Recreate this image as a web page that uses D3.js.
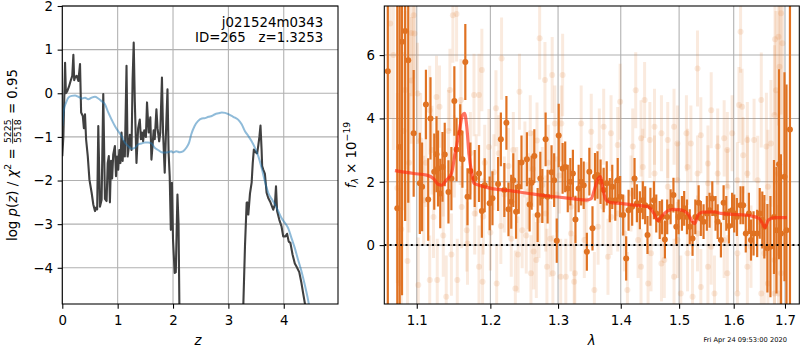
<!DOCTYPE html>
<html><head><meta charset="utf-8">
<script src="https://cdn.jsdelivr.net/npm/d3@7"></script>
<style>
body{margin:0;background:#fff}
svg text{font-family:"DejaVu Sans",sans-serif}
</style></head><body>
<svg id="fig" width="800" height="350"></svg>
<script>
// ---- redshift probability, p(z) (dark curve) ----
const pzGrid = [0.00,0.02,0.035,0.05,0.065,0.09,0.12,0.15,0.18,0.20,0.215,0.23,0.26,0.29,0.32,0.34,0.37,0.39,0.41,0.43,0.46,0.49,0.53,0.56,0.59,0.61,0.63,0.65,0.68,0.71,0.74,0.77,0.80,0.82,0.84,0.86,0.88,0.90,0.92,0.95,0.97,0.99,1.01,1.03,1.05,1.07,1.09,1.11,1.13,1.16,1.18,1.20,1.22,1.25,1.27,1.29,1.31,1.34,1.37,1.40,1.42,1.44,1.46,1.48,1.51,1.53,1.56,1.59,1.61,1.63,1.65,1.67,1.70,1.72,1.75,1.77,1.80,1.82,1.85,1.87,1.90,1.92,1.94,1.96,1.98,2.00,2.03,2.05,2.07,2.08,2.10,2.12,2.20,3.20,3.25,3.27,3.30,3.33,3.34,3.36,3.39,3.42,3.44,3.46,3.49,3.52,3.54,3.56,3.58,3.60,3.61,3.63,3.66,3.69,3.72,3.76,3.81,3.84,3.86,3.88,3.92,3.96,3.99,4.03,4.06,4.09,4.12,4.16,4.20,4.23,4.28,4.32,4.35,4.40,4.45];
const pzLog  = [-1.44,-0.98,-0.14,0.70,0.00,0.05,0.15,0.28,0.40,0.88,0.30,0.36,0.40,0.28,0.67,-0.44,-0.52,-0.80,-0.48,-1.06,-1.44,-1.98,-2.28,-2.55,-2.70,-2.62,-2.66,-0.75,-2.60,-2.44,-0.02,-2.42,-2.47,-1.60,-1.44,-2.50,-1.55,-1.95,-1.40,-1.21,-1.90,-1.45,-1.75,-1.30,-1.60,-0.90,-1.55,-1.10,-1.45,0.63,-1.45,-1.25,-0.95,-1.30,0.32,1.16,-0.20,-1.60,-0.80,-0.60,-1.05,-0.90,-1.10,-0.85,-1.00,-0.21,-0.90,-0.55,-1.52,-1.20,-0.85,-1.05,-0.37,-0.80,-1.10,-0.90,0.36,-0.90,-1.82,-1.00,0.09,-1.36,-1.90,-3.13,-2.05,-3.36,-4.12,-4.10,-2.90,-2.32,-3.00,-5.50,-12,-12,-6.0,-4.85,-3.50,-2.51,-2.50,-2.78,-2.30,-2.05,-1.60,-1.29,-1.35,-1.38,-1.20,-1.00,-0.74,-1.30,-1.67,-1.75,-1.85,-2.28,-2.40,-2.50,-2.67,-2.55,-2.13,-2.70,-2.90,-3.05,-3.28,-3.28,-3.22,-3.40,-3.43,-3.70,-3.90,-3.97,-4.10,-4.35,-4.58,-4.95,-5.50];

// ---- smoothed p(z) (light blue curve) ----
const pzSmoothGrid = [0.00,0.03,0.07,0.11,0.17,0.23,0.29,0.35,0.41,0.47,0.53,0.59,0.65,0.71,0.77,0.83,0.89,0.95,1.01,1.07,1.13,1.19,1.25,1.31,1.37,1.43,1.49,1.55,1.61,1.67,1.73,1.79,1.85,1.91,1.97,2.00,2.06,2.12,2.18,2.24,2.29,2.33,2.39,2.45,2.52,2.58,2.64,2.70,2.76,2.82,2.88,2.94,3.00,3.06,3.12,3.18,3.24,3.30,3.36,3.42,3.48,3.54,3.60,3.66,3.72,3.78,3.84,3.90,3.96,4.02,4.08,4.14,4.20,4.26,4.32,4.38,4.44,4.53];
const pzSmoothLog  = [-0.75,-0.37,-0.21,-0.10,-0.06,-0.05,-0.08,-0.12,-0.10,-0.14,-0.10,-0.08,-0.12,-0.18,-0.25,-0.44,-0.60,-0.75,-0.87,-0.98,-1.13,-1.21,-1.27,-1.25,-1.17,-1.15,-1.13,-1.13,-1.15,-1.25,-1.30,-1.35,-1.36,-1.35,-1.33,-1.36,-1.33,-1.35,-1.33,-1.25,-1.13,-0.94,-0.75,-0.64,-0.58,-0.57,-0.54,-0.52,-0.48,-0.46,-0.44,-0.45,-0.48,-0.52,-0.56,-0.61,-0.71,-0.87,-0.98,-1.10,-1.25,-1.44,-1.71,-2.02,-2.28,-2.42,-2.55,-2.70,-2.86,-2.97,-3.09,-3.32,-3.55,-3.82,-4.08,-4.39,-4.74,-5.40];

const zTicks = [0,1,2,3,4];
const logpTicks = [-4,-3,-2,-1,0,1,2];

// ---- spectrum: [wavelength, flux, error] ----
const specStrong = [
 [1.063,5.49,10],[1.075,1.16,9],[1.078,3.10,8],[1.081,6.42,8],[1.085,6.76,6],[1.089,5.84,4.5],[1.096,3.53,2.0],
 [1.104,1.95,1.6],[1.107,1.84,1.4],[1.112,4.44,1.1],[1.115,1.44,1.3],[1.118,4.00,1.3],[1.123,2.32,1.2],[1.126,2.87,1.2],
 [1.128,2.42,1.2],[1.131,1.63,1.1],[1.134,2.47,1.1],[1.137,2.86,1.0],[1.142,1.68,1.0],[1.146,2.10,1.0],[1.150,4.55,1.1],
 [1.153,3.02,1.0],[1.158,3.55,0.9],[1.161,2.71,0.9],[1.165,5.78,1.2],[1.168,1.53,0.9],[1.172,2.34,0.9],[1.178,2.10,0.9],
 [1.184,2.26,0.9],[1.188,1.08,0.85],[1.192,1.89,0.85],[1.199,1.32,0.85],[1.203,1.48,0.85],[1.211,1.93,0.85],[1.215,3.34,0.85],
 [1.220,1.74,0.85],[1.223,3.86,0.85],[1.226,1.13,0.85],[1.230,1.37,0.85],[1.233,2.05,0.85],[1.237,1.05,0.85],[1.241,1.84,0.85],
 [1.245,2.61,0.85],[1.253,2.71,0.85],[1.257,1.28,0.85],[1.260,1.97,0.85],[1.264,2.81,0.85],[1.269,0.95,0.85],[1.273,2.10,0.85],
 [1.276,1.55,0.85],[1.281,3.34,0.85],[1.284,1.53,0.85],[1.290,2.30,0.85],[1.294,2.05,0.85],[1.298,0.14,0.7],[1.301,3.46,1.0],
 [1.307,2.42,0.8],[1.311,2.47,0.8],[1.315,1.79,0.75],[1.319,2.00,0.75],[1.323,2.26,0.75],[1.327,0.81,0.75],[1.332,1.79,0.75],
 [1.336,2.00,0.75],[1.340,1.89,0.75],[1.345,-0.21,0.6],[1.349,2.32,0.75],[1.354,0.53,0.7],[1.358,2.16,0.75],[1.362,2.21,0.75],
 [1.367,2.00,0.7],[1.372,1.74,0.7],[1.377,1.95,0.7],[1.382,1.42,0.7],[1.386,1.84,0.7],[1.391,1.42,0.65],[1.395,2.05,0.7],
 [1.399,1.53,0.65],[1.404,0.95,0.65],[1.409,-0.42,0.7],[1.413,1.10,0.65],[1.419,1.21,0.6],[1.423,2.10,0.65],[1.427,1.32,0.6],
 [1.432,1.10,0.6],[1.437,1.42,0.6],[1.441,1.26,0.6],[1.445,0.32,0.6],[1.450,1.21,0.6],[1.456,1.42,0.6],[1.460,1.00,0.6],
 [1.466,0.79,0.6],[1.470,0.89,0.55],[1.475,0.18,0.6],[1.479,0.89,0.55],[1.485,1.21,0.55],[1.490,1.58,0.55],[1.495,0.58,0.55],
 [1.499,0.89,0.55],[1.505,1.00,0.55],[1.509,1.16,0.55],[1.514,0.89,0.55],[1.519,0.58,0.55],[1.524,0.21,0.55],[1.529,0.89,0.55],
 [1.535,1.34,0.55],[1.539,0.84,0.55],[1.544,0.74,0.55],[1.550,1.00,0.55],[1.555,1.10,0.55],[1.560,1.47,0.55],[1.566,1.00,0.55],
 [1.570,0.74,0.55],[1.576,0.16,0.55],[1.581,1.34,0.55],[1.586,1.00,0.55],[1.591,0.60,0.55],[1.597,1.10,0.55],[1.601,1.00,0.6],
 [1.606,0.89,0.6],[1.613,1.26,0.6],[1.618,1.26,0.6],[1.623,0.37,0.6],[1.629,1.00,0.65],[1.633,0.16,0.65],[1.638,0.37,0.7],
 [1.645,0.37,0.75],[1.650,1.00,0.8],[1.655,0.79,0.9],[1.659,0.58,1.0],[1.665,-0.10,1.4],[1.671,-0.05,1.6],[1.678,0.89,1.8],
 [1.683,0.47,2.0],[1.688,2.55,3.0],[1.692,0.37,2.5],[1.699,2.16,3.3],[1.703,0.47,4.6],[1.710,3.65,9]
];

const specFaint = [
 [1.066,7.0,3.0],[1.070,6.0,3.0],[1.075,1.8,3.0],[1.078,-1.2,3.0],[1.080,0.5,3.0],[1.083,3.6,2.5],[1.085,4.9,2.5],[1.088,-0.5,2.5],
 [1.090,2.6,2.2],[1.093,5.2,2.0],[1.093,6.7,2.0],[1.096,7.26,2.0],[1.097,6.68,1.8],[1.101,4.79,1.6],
 [1.102,-1.26,1.5],[1.105,3.3,1.5],[1.109,1.42,1.4],[1.112,2.6,1.4],[1.117,4.26,1.4],[1.117,-1.10,1.4],[1.120,3.0,1.4],
 [1.122,0.89,1.3],[1.126,4.68,1.3],[1.127,-1.10,1.3],[1.130,4.37,1.3],[1.135,2.2,1.3],[1.135,0.3,1.3],[1.139,-1.63,1.3],
 [1.142,3.6,1.3],[1.144,4.90,1.3],[1.146,-0.3,1.3],[1.148,7.26,1.5],[1.150,2.8,1.3],[1.153,7.30,1.5],[1.154,-1.10,1.3],
 [1.158,3.2,1.3],[1.159,4.58,1.3],[1.160,1.2,1.3],[1.167,0.47,1.3],[1.168,0.05,1.3],[1.172,2.9,1.3],[1.177,4.74,1.3],
 [1.178,1.0,1.3],[1.180,2.2,1.3],[1.184,4.74,1.3],[1.184,-0.68,1.3],[1.188,5.53,1.3],[1.189,-1.16,1.2],[1.190,0.9,1.2],
 [1.192,2.6,1.2],[1.198,3.1,1.2],[1.200,0.4,1.2],[1.205,2.3,1.2],[1.208,4.32,1.2],[1.209,-1.21,1.2],[1.212,2.9,1.2],
 [1.215,0.6,1.2],[1.216,5.89,1.3],[1.220,1.6,1.2],[1.226,2.5,1.2],[1.230,0.2,1.2],[1.233,3.0,1.2],[1.236,-1.37,1.2],
 [1.238,1.9,1.2],[1.240,-0.3,1.2],[1.242,4.84,1.2],[1.246,0.47,1.2],[1.250,2.7,1.2],[1.252,0.3,1.2],[1.255,1.7,1.2],
 [1.258,3.53,1.2],[1.259,-0.89,1.2],[1.262,2.4,1.2],[1.263,-0.2,1.2],[1.267,-0.47,1.2],[1.268,3.3,1.2],[1.271,0.79,1.2],
 [1.272,6.53,1.3],[1.276,1.9,1.2],[1.280,5.21,1.2],[1.281,1.0,1.2],[1.283,-0.68,1.2],[1.285,2.6,1.2],[1.288,0.2,1.2],
 [1.291,5.37,1.2],[1.292,-0.89,1.2],[1.295,3.84,1.2],[1.298,1.6,1.2],[1.302,2.2,1.2],[1.304,-1.0,1.2],
 [1.305,3.84,1.2],[1.307,5.37,1.3],[1.312,-1.0,1.2],[1.320,0.37,1.2],[1.320,1.21,1.2],[1.325,-1.16,1.2],[1.326,-0.89,1.2],
 [1.336,3.84,1.2],[1.341,0.16,1.2],[1.344,1.42,1.2],[1.352,3.58,1.2],[1.357,-1.42,1.2],[1.363,0.58,1.2],[1.365,3.11,1.2],
 [1.371,1.21,1.2],[1.372,3.74,1.2],[1.379,-0.37,1.2],[1.384,3.53,1.2],[1.384,0.89,1.2],[1.395,3.16,1.2],[1.395,1.0,1.2],
 [1.399,4.53,1.2],[1.406,0.37,1.2],[1.411,-1.42,1.2],[1.417,1.63,1.2],[1.420,3.11,1.2],[1.425,4.89,1.2],[1.429,0.16,1.2],
 [1.434,3.37,1.2],[1.434,-0.68,1.2],[1.437,2.47,1.2],[1.440,4.58,1.2],[1.446,-1.21,1.2],[1.449,3.32,1.2],[1.451,-0.26,1.2],
 [1.457,3.74,1.2],[1.457,2.26,1.2],[1.469,3.53,1.2],[1.469,-0.58,1.2],[1.474,-0.47,1.2],[1.480,3.32,1.2],[1.480,1.84,1.2],
 [1.491,3.74,1.2],[1.491,-1.0,1.2],[1.497,3.21,1.2],[1.497,0.16,1.2],[1.497,2.05,1.2],[1.503,-1.53,1.2],[1.513,3.53,1.2],
 [1.515,-0.26,1.2],[1.515,2.47,1.2],[1.521,3.21,1.2],[1.524,-1.63,1.2],[1.533,5.58,1.2],[1.533,0.37,1.2],[1.533,2.26,1.2],
 [1.539,3.47,1.2],[1.539,-1.32,1.2],[1.552,2.58,1.2],[1.552,-0.68,1.2],[1.552,1.95,1.2],[1.558,4.26,1.2],[1.558,-0.05,1.2],
 [1.564,-1.53,1.2],[1.570,3.11,1.2],[1.570,2.26,1.2],[1.582,3.37,1.2],[1.582,0.16,1.2],[1.588,3.0,1.2],[1.588,-0.89,1.2],
 [1.588,1.84,1.2],[1.597,3.53,1.2],[1.607,-1.53,1.2],[1.607,-0.26,1.2],[1.607,2.05,1.2],[1.610,4.42,1.2],[1.613,6.74,1.3],
 [1.616,4.37,1.2],[1.618,2.84,1.2],[1.626,3.32,1.2],[1.626,-0.68,1.2],[1.626,2.26,1.2],[1.633,-0.05,1.3],[1.639,3.32,1.3],
 [1.646,2.05,1.4],[1.653,4.58,1.5],[1.653,-1.53,1.5],[1.659,-0.26,1.6],[1.663,3.11,1.7],[1.666,-1.21,1.8],[1.666,1.84,1.8],
 [1.672,3.21,2.0],[1.679,4.11,2.2],[1.679,-1.53,2.2],[1.679,-0.47,2.2],[1.680,6.5,2.4],[1.682,4.89,2.5],[1.686,2.26,2.6],
 [1.687,6.58,2.8],[1.687,-1.53,2.8],[1.689,5.63,3.0],[1.692,7.32,3.2],[1.692,-0.89,3.2],[1.695,6.37,3.5]
];

// ---- model spectrum ----
const lineWave = [1.072,1.096,1.113,1.122,1.128,1.133,1.139,1.146,1.151,1.157,1.161,1.164,1.167,1.170,1.174,1.177,1.184,1.201,1.228,1.256,1.284,1.303,1.325,1.344,1.352,1.357,1.363,1.367,1.371,1.376,1.384,1.400,1.423,1.446,1.456,1.463,1.470,1.480,1.491,1.503,1.515,1.524,1.528,1.534,1.542,1.564,1.576,1.600,1.633,1.649,1.656,1.660,1.667,1.679,1.704];
const lineFlux = [2.35,2.26,2.21,2.10,1.92,1.89,2.05,2.26,2.89,3.63,4.10,4.16,3.74,2.89,2.26,1.95,1.89,1.79,1.72,1.63,1.55,1.51,1.46,1.42,1.47,1.74,2.10,2.16,1.74,1.42,1.34,1.32,1.26,1.21,1.00,0.77,0.92,1.08,1.13,1.11,1.00,0.74,0.68,0.95,1.04,1.05,1.00,0.97,0.92,0.84,0.66,0.55,0.79,0.87,0.87];

const waveTicks = [1.1,1.2,1.3,1.4,1.5,1.6,1.7];
const fluxTicks = [0,2,4,6];

const FS = 13.33;
const svg = d3.select('#fig');
svg.append('rect').attr('width',800).attr('height',350).attr('fill','#fff');

// panel boxes
const L = {x0:62.3, x1:338, y0:6, y1:304};
const R = {x0:384.3, x1:799.3, y0:6, y1:304};

const xL = d3.scaleLinear().domain([0,4.98]).range([L.x0,L.x1]);
const yL = d3.scaleLinear().domain([-4.83,2.0]).range([L.y1,L.y0]);
const xR = d3.scaleLog().domain([1.0586,1.729]).range([R.x0,R.x1]);
const yR = d3.scaleLinear().domain([-1.86,7.55]).range([R.y1,R.y0]);

const defs = svg.append('defs');
defs.append('clipPath').attr('id','clipL').append('rect')
  .attr('x',L.x0).attr('y',L.y0).attr('width',L.x1-L.x0).attr('height',L.y1-L.y0);
defs.append('clipPath').attr('id','clipR').append('rect')
  .attr('x',R.x0).attr('y',R.y0).attr('width',R.x1-R.x0).attr('height',R.y1-R.y0);

function grid(box, xs, ys, xt, yt) {
  const g = svg.append('g');
  g.selectAll(null).data(xt).join('line')
    .attr('x1',d=>xs(d)).attr('x2',d=>xs(d)).attr('y1',box.y0).attr('y2',box.y1)
    .attr('stroke','#b0b0b0').attr('stroke-width',1.07);
  g.selectAll(null).data(yt).join('line')
    .attr('y1',d=>ys(d)).attr('y2',d=>ys(d)).attr('x1',box.x0).attr('x2',box.x1)
    .attr('stroke','#b0b0b0').attr('stroke-width',1.07);
}
grid(L, xL, yL, zTicks, logpTicks);
grid(R, xR, yR, waveTicks, fluxTicks);

function styleAxis(g) {
  g.select('.domain').remove();
  g.selectAll('.tick line').attr('stroke','#000').attr('stroke-width',1.07);
  g.selectAll('.tick text').attr('font-size',FS).attr('fill','#000')
    .attr('font-family','DejaVu Sans');
}
styleAxis(svg.append('g').attr('transform',`translate(0,${L.y1})`)
  .call(d3.axisBottom(xL).tickValues(zTicks).tickFormat(d3.format('d')).tickSize(4.67).tickPadding(6.5)));
styleAxis(svg.append('g').attr('transform',`translate(${L.x0},0)`)
  .call(d3.axisLeft(yL).tickValues(logpTicks).tickFormat(d3.format('d')).tickSize(4.67).tickPadding(4.67)));
styleAxis(svg.append('g').attr('transform',`translate(0,${R.y1})`)
  .call(d3.axisBottom(xR).tickValues(waveTicks).tickFormat(d3.format('.1f')).tickSize(4.67).tickPadding(6.5)));
styleAxis(svg.append('g').attr('transform',`translate(${R.x0},0)`)
  .call(d3.axisLeft(yR).tickValues(fluxTicks).tickFormat(d3.format('d')).tickSize(4.67).tickPadding(4.67)));

// ---- left panel curves ----
const gL = svg.append('g').attr('clip-path','url(#clipL)');
gL.append('path')
  .attr('d', d3.line().x(d=>xL(d[0])).y(d=>yL(d[1]))(d3.zip(pzGrid,pzLog)))
  .attr('fill','none').attr('stroke','#404040').attr('stroke-width',2.1).attr('stroke-linejoin','round');
gL.append('path')
  .attr('d', d3.line().curve(d3.curveMonotoneX).x(d=>xL(d[0])).y(d=>yL(d[1]))(d3.zip(pzSmoothGrid,pzSmoothLog)))
  .attr('fill','none').attr('stroke','#1f77b4').attr('stroke-opacity',0.5).attr('stroke-width',2);

// ---- right panel spectrum ----
const ORANGE = 'rgb(224,114,34)';
const gR = svg.append('g').attr('clip-path','url(#clipR)');
function errorbars(data, w, r, op) {
  const g = gR.append('g');
  g.selectAll(null).data(data).join('line')
    .attr('x1',d=>xR(d[0])).attr('x2',d=>xR(d[0]))
    .attr('y1',d=>yR(d[1]-d[2])).attr('y2',d=>yR(d[1]+d[2]))
    .attr('stroke',ORANGE).attr('stroke-width',w).attr('stroke-opacity',op);
  g.selectAll(null).data(data).join('circle')
    .attr('cx',d=>xR(d[0])).attr('cy',d=>yR(d[1])).attr('r',r)
    .attr('fill',ORANGE).attr('fill-opacity',op);
}
errorbars(specFaint, 3, 3, 0.15);
errorbars(specStrong, 2.2, 3, 1);

gR.append('path')
  .attr('d', d3.line().curve(d3.curveMonotoneX).x(d=>xR(d[0])).y(d=>yR(d[1]))(d3.zip(lineWave,lineFlux)))
  .attr('fill','none').attr('stroke','#ff2a10').attr('stroke-opacity',0.65).attr('stroke-width',3.2)
  .attr('stroke-linejoin','round');

gR.append('line').attr('x1',R.x0).attr('x2',R.x1).attr('y1',yR(0)).attr('y2',yR(0))
  .attr('stroke','#000').attr('stroke-width',2).attr('stroke-dasharray','2,3.3');

// frames
[L,R].forEach(b => svg.append('rect').attr('x',b.x0).attr('y',b.y0)
  .attr('width',b.x1-b.x0).attr('height',b.y1-b.y0)
  .attr('fill','none').attr('stroke','#000').attr('stroke-width',1.07));

// ---- annotation ----
svg.append('text').attr('x',323.3).attr('y',26.7).attr('text-anchor','end')
  .attr('font-size',FS).text('j021524m0343');
svg.append('text').attr('x',323.3).attr('y',41.7).attr('text-anchor','end')
  .attr('font-size',FS).text('ID=265\u00a0\u00a0\u00a0z=1.3253');

// ---- math-style labels ----
function mathLabel(parent, pieces, fs) {
  const inner = parent.append('g');
  let x = 0;
  pieces.forEach(p => {
    if (p.frac) {
      const s = fs*0.7, bar = -fs*0.33;
      const n = inner.append('text').attr('font-size',s).text(p.frac[0]);
      const d = inner.append('text').attr('font-size',s).text(p.frac[1]);
      const w = Math.max(n.node().getComputedTextLength(), d.node().getComputedTextLength());
      n.attr('x',x+1+w/2).attr('text-anchor','middle').attr('y',bar-1.6);
      d.attr('x',x+1+w/2).attr('text-anchor','middle').attr('y',bar+1.6+s*0.73);
      inner.append('line').attr('x1',x+0.5).attr('x2',x+w+1.5).attr('y1',bar).attr('y2',bar)
        .attr('stroke','#000').attr('stroke-width',0.8);
      x += w + 2;
    } else {
      const s = (p.sup||p.sub) ? fs*0.7 : fs;
      const t = inner.append('text').attr('font-size',s).attr('x',x)
        .attr('y', p.sup ? -fs*0.42 : p.sub ? fs*0.22 : 0)
        .attr('font-style', p.it ? 'italic' : 'normal')
        .text(p.t.replace(/ /g,'\u00a0'));
      x += t.node().getComputedTextLength();
    }
  });
  inner.attr('transform',`translate(${-x/2},0)`);
}
mathLabel(svg.append('g').attr('transform','translate(17,155) rotate(-90)'), [
  {t:'log '},{t:'p',it:true},{t:'('},{t:'z',it:true},{t:') / '},{t:'χ',it:true},{t:'2',sup:true},
  {t:' = '},{frac:['5225','5518']},{t:' = 0.95'}], FS);
mathLabel(svg.append('g').attr('transform','translate(355.5,155) rotate(-90)'), [
  {t:'f',it:true},{t:'λ',it:true,sub:true},{t:' × 10'},{t:'−19',sup:true}], FS);

svg.append('text').attr('x',xL(2.45)).attr('y',345).attr('text-anchor','middle')
  .attr('font-size',FS).attr('font-style','italic').text('z');
svg.append('text').attr('x',(R.x0+R.x1)/2).attr('y',345).attr('text-anchor','middle')
  .attr('font-size',FS).attr('font-style','italic').text('λ');

svg.append('text').attr('x',787).attr('y',341.5).attr('text-anchor','end')
  .attr('font-size',6.7).text('Fri Apr 24 09:53:00 2020');
</script></body></html>
